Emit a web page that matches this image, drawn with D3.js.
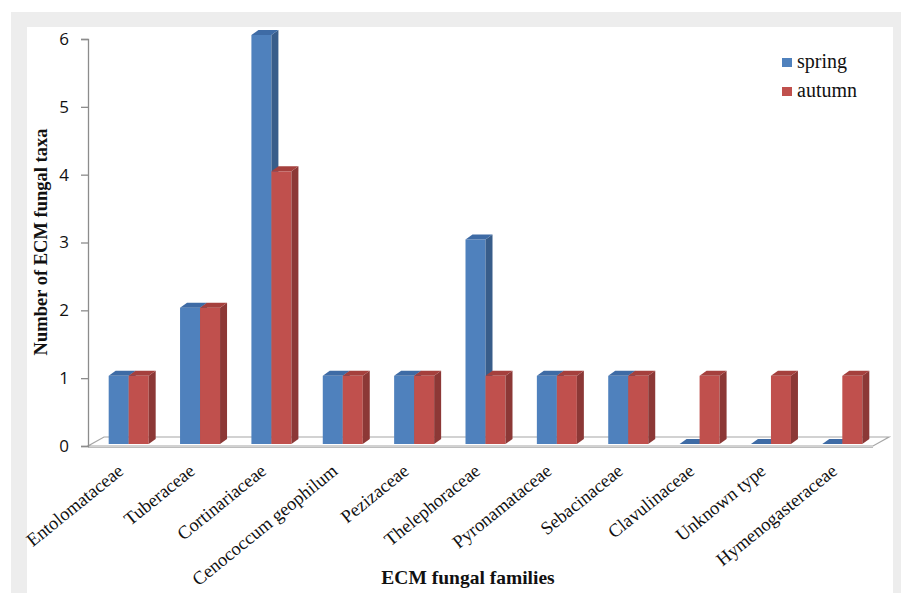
<!DOCTYPE html>
<html>
<head>
<meta charset="utf-8">
<script src="https://cdn.jsdelivr.net/npm/d3@7"></script>
<style>
  html, body { margin: 0; padding: 0; background: #ffffff; }
  svg { display: block; }
</style>
</head>
<body>
<script>
// ECM fungal taxa per family, by season
const categories = [
  "Entolomataceae", "Tuberaceae", "Cortinariaceae", "Cenococcum geophilum",
  "Pezizaceae", "Thelephoraceae", "Pyronamataceae", "Sebacinaceae",
  "Clavulinaceae", "Unknown type", "Hymenogasteraceae"
];
const seriesNames = ["spring", "autumn"];
const springValues = [1, 2, 6, 1, 1, 3, 1, 1, 0, 0, 0];
const autumnValues = [1, 2, 4, 1, 1, 1, 1, 1, 1, 1, 1];
const yTicks = [0, 1, 2, 3, 4, 5, 6];

const W = 901, H = 593;
const svg = d3.select("body").append("svg").attr("width", W).attr("height", H);

// panel frame
svg.append("rect").attr("x", 11).attr("y", 12).attr("width", W - 11).attr("height", H - 12).attr("fill", "#ededed");
svg.append("rect").attr("x", 27).attr("y", 27).attr("width", 893 - 27).attr("height", H - 27).attr("fill", "#ffffff");

// scales
const x = d3.scaleBand().domain(categories).range([88, 873]);
const xs = d3.scaleBand().domain(seriesNames).range([0, 40]);
const yAxisScale = d3.scaleLinear().domain([0, 6]).range([446, 39]);
const yBar = d3.scaleLinear().domain([0, 6]).range([444, 35]);

const depth = { dx: 7, dy: -5 };
const floorDepth = { dx: 16, dy: -9 };

// floor of the 3D plot
const fx0 = x.range()[0], fx1 = x.range()[1], fy = yAxisScale(0);
svg.append("polygon")
  .attr("points", [
    [fx0, fy], [fx1, fy], [fx1 + floorDepth.dx, fy + floorDepth.dy], [fx0 + floorDepth.dx, fy + floorDepth.dy]
  ].map(p => p.join(",")).join(" "))
  .attr("fill", "#ffffff").attr("stroke", "#a6a6a6").attr("stroke-width", 1.2);
svg.append("line").attr("x1", fx0).attr("x2", fx1).attr("y1", fy + 1.5).attr("y2", fy + 1.5)
  .attr("stroke", "#bdbdbd").attr("stroke-width", 1);

// y axis
const yAxis = d3.axisLeft(yAxisScale).tickValues(yTicks).tickSize(7).tickPadding(12).tickFormat(d3.format("d"));
const gy = svg.append("g").attr("transform", "translate(88,0)").call(yAxis);
gy.select(".domain").attr("stroke", "#8c8c8c").attr("stroke-width", 1.3);
gy.selectAll(".tick line").attr("stroke", "#8c8c8c").attr("stroke-width", 1.3);
gy.selectAll(".tick text").attr("font-family", "'Open Sans', 'Liberation Sans', sans-serif")
  .attr("font-size", 17).attr("fill", "#111");

// bars
const colors = {
  spring: { front: "#4f81bd", side: "#385d8a", top: "#3e6ba5" },
  autumn: { front: "#c0504d", side: "#8c3836", top: "#a5403d" }
};
const rows = [];
categories.forEach((c, i) => {
  rows.push({ cat: c, s: "spring", v: springValues[i] });
  rows.push({ cat: c, s: "autumn", v: autumnValues[i] });
});
const offset = (x.bandwidth() - 40) / 2 + 5;
const bw = xs.bandwidth();

const bars = svg.append("g").selectAll("g").data(rows).join("g");
bars.each(function (d) {
  const g = d3.select(this);
  const x0 = x(d.cat) + offset + xs(d.s), x1 = x0 + bw;
  const yTop = yBar(d.v), yBase = yBar(0);
  const col = colors[d.s];
  if (d.v > 0) {
    g.append("rect").attr("x", x0).attr("y", yTop).attr("width", bw).attr("height", yBase - yTop).attr("fill", col.front);
    g.append("polygon").attr("fill", col.side).attr("points", [
      [x1, yTop], [x1 + depth.dx, yTop + depth.dy], [x1 + depth.dx, yBase + depth.dy], [x1, yBase]
    ].map(p => p.join(",")).join(" "));
  }
  g.append("polygon").attr("fill", col.top).attr("points", [
    [x0, yTop], [x1, yTop], [x1 + depth.dx, yTop + depth.dy], [x0 + depth.dx, yTop + depth.dy]
  ].map(p => p.join(",")).join(" "));
});

// category labels
svg.append("g").selectAll("text").data(categories).join("text")
  .attr("transform", d => `translate(${x(d) + offset + 16},${473}) rotate(-39)`)
  .attr("text-anchor", "end")
  .attr("font-family", "'Liberation Serif', 'Times New Roman', serif")
  .attr("font-size", 18.5).attr("fill", "#111")
  .text(d => d);

// axis titles
svg.append("text").attr("x", 468).attr("y", 584).attr("text-anchor", "middle")
  .attr("font-family", "'Liberation Serif', 'Times New Roman', serif").attr("font-weight", "bold")
  .attr("font-size", 19.5).attr("fill", "#111").text("ECM fungal families");
svg.append("text").attr("transform", "translate(47,242) rotate(-90)").attr("text-anchor", "middle")
  .attr("font-family", "'Liberation Serif', 'Times New Roman', serif").attr("font-weight", "bold")
  .attr("font-size", 18.5).attr("fill", "#111").text("Number of ECM fungal taxa");

// legend
const legend = svg.append("g").selectAll("g").data(seriesNames).join("g")
  .attr("transform", (d, i) => `translate(782,${58 + i * 29})`);
legend.append("rect").attr("width", 10).attr("height", 9).attr("fill", d => colors[d].front);
legend.append("text").attr("x", 15).attr("y", 9.5)
  .attr("font-family", "'Liberation Serif', 'Times New Roman', serif")
  .attr("font-size", 20).attr("fill", "#111").text(d => d);
</script>
</body>
</html>
